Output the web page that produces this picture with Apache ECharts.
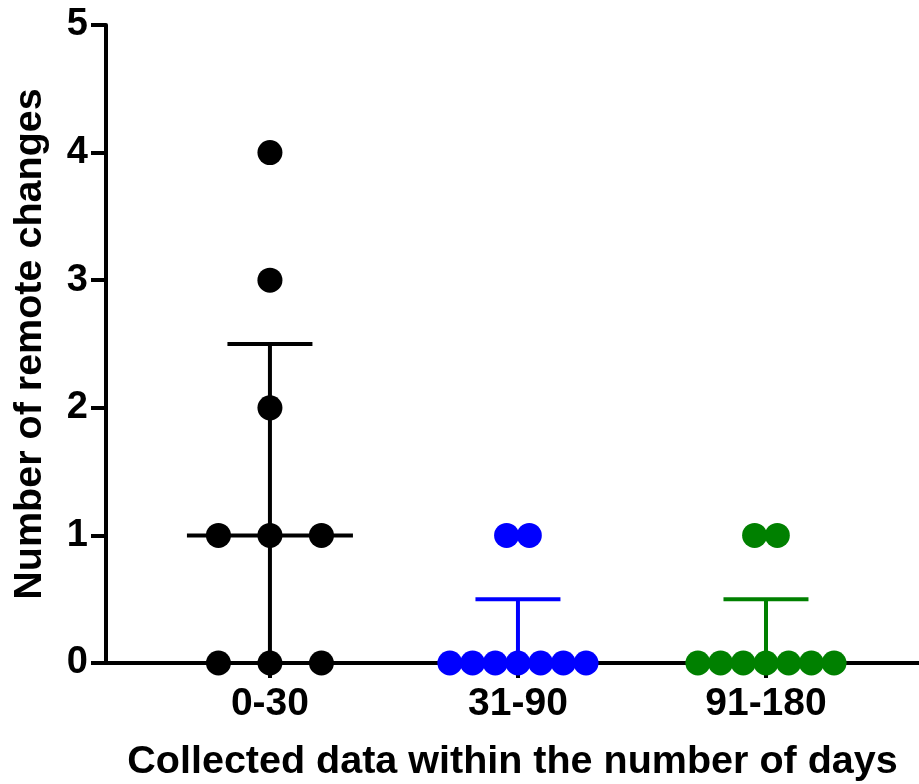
<!DOCTYPE html>
<html>
<head>
<meta charset="utf-8">
<script src="https://cdn.jsdelivr.net/npm/echarts@6/dist/echarts.min.js"></script>
<style>html,body{margin:0;padding:0;background:#fff}#c{width:919px;height:784px}</style>
</head>
<body>
<div id="c"></div>
<script>
const categories = ['0-30', '31-90', '91-180'];
const group0 = [4, 3, 2, 1, 1, 1, 0, 0, 0];
const group1 = [1, 1, 0, 0, 0, 0, 0, 0, 0];
const group2 = [1, 1, 0, 0, 0, 0, 0, 0, 0];
const groups = [group0, group1, group2];
const colors = ['#000000', '#0000ff', '#008000'];
const yTicks = [0, 1, 2, 3, 4, 5];

// spread (px) between side-by-side dots with equal value
const dotSpread = [51.5, 22.7, 22.7];

function quantiles(arr) {
  const s = arr.slice().sort((a, b) => a - b);
  const med = a => { const n = a.length; return n % 2 ? a[(n - 1) / 2] : (a[n / 2 - 1] + a[n / 2]) / 2; };
  const n = s.length;
  const lower = s.slice(0, Math.floor(n / 2));
  const upper = s.slice(Math.ceil(n / 2));
  return { q1: med(lower), med: med(s), q3: med(upper) };
}

const FONT = '"Liberation Sans", Arial, sans-serif';
const series = [];
const summary = groups.map((g, i) => Object.assign({ x: i + 1 }, quantiles(g)));

groups.forEach((g, gi) => {
  const counts = {};
  g.forEach(v => { counts[v] = (counts[v] || 0) + 1; });
  const seen = {};
  const data = g.map(v => {
    const n = counts[v];
    const k = seen[v] = (seen[v] === undefined ? 0 : seen[v] + 1);
    return { value: [gi + 1, v], symbolOffset: [(k - (n - 1) / 2) * dotSpread[gi], 0] };
  });
  series.push({
    type: 'scatter', data: data, symbol: 'circle', symbolSize: 25, z: 5,
    itemStyle: { color: colors[gi], opacity: 1 }, silent: true
  });
});

series.push({
  type: 'custom', z: 1, silent: true,
  data: summary.map(s => [s.x, s.q1, s.med, s.q3]),
  renderItem: function (params, api) {
    const x = api.value(0);
    const pQ1 = api.coord([x, api.value(1)]);
    const pMed = api.coord([x, api.value(2)]);
    const pQ3 = api.coord([x, api.value(3)]);
    const c = colors[params.dataIndex];
    const st = { stroke: c, lineWidth: 4 };
    return {
      type: 'group',
      children: [
        { type: 'line', shape: { x1: pQ1[0], y1: pQ1[1], x2: pQ3[0], y2: pQ3[1] }, style: st },
        { type: 'line', shape: { x1: pMed[0] - 83, y1: pMed[1], x2: pMed[0] + 83, y2: pMed[1] }, style: st },
        { type: 'line', shape: { x1: pQ3[0] - 42.5, y1: pQ3[1], x2: pQ3[0] + 42.5, y2: pQ3[1] }, style: st },
        { type: 'line', shape: { x1: pQ1[0] - 42.5, y1: pQ1[1], x2: pQ1[0] + 42.5, y2: pQ1[1] }, style: st }
      ]
    };
  }
});

const chart = echarts.init(document.getElementById('c'), null, { renderer: 'canvas' });
chart.setOption({
  animation: false,
  backgroundColor: '#ffffff',
  grid: { left: 106, right: 0, top: 25, bottom: 121, containLabel: false, outerBoundsMode: 'none' },
  xAxis: {
    type: 'value', min: 0.339, max: 3.617, z: 3,
    name: 'Collected data within the number of days',
    nameLocation: 'middle', nameGap: 79,
    nameTextStyle: { fontFamily: FONT, fontWeight: 'bold', fontSize: 39.5, color: '#000' },
    axisLine: { show: true, onZero: false, lineStyle: { color: '#000', width: 4 } },
    axisTick: { show: true, customValues: [1, 2, 3], length: 15, lineStyle: { color: '#000', width: 4 } },
    axisLabel: {
      customValues: [1, 2, 3], margin: 22,
      formatter: v => categories[Math.round(v) - 1] || '',
      fontFamily: FONT, fontWeight: 'bold', fontSize: 39, color: '#000'
    },
    splitLine: { show: false }
  },
  yAxis: {
    type: 'value', min: 0, max: 5, interval: 1, z: 3,
    name: 'Number of remote changes',
    nameLocation: 'middle', nameGap: 56, nameRotate: 90,
    nameTextStyle: { fontFamily: FONT, fontWeight: 'bold', fontSize: 39.5, color: '#000' },
    axisLine: { show: true, lineStyle: { color: '#000', width: 4 } },
    axisTick: { show: true, length: 15, lineStyle: { color: '#000', width: 4 } },
    axisLabel: {
      margin: 18, customValues: yTicks,
      fontFamily: FONT, fontWeight: 'bold', fontSize: 38, color: '#000'
    },
    splitLine: { show: false }
  },
  series: series
});
</script>
</body>
</html>
